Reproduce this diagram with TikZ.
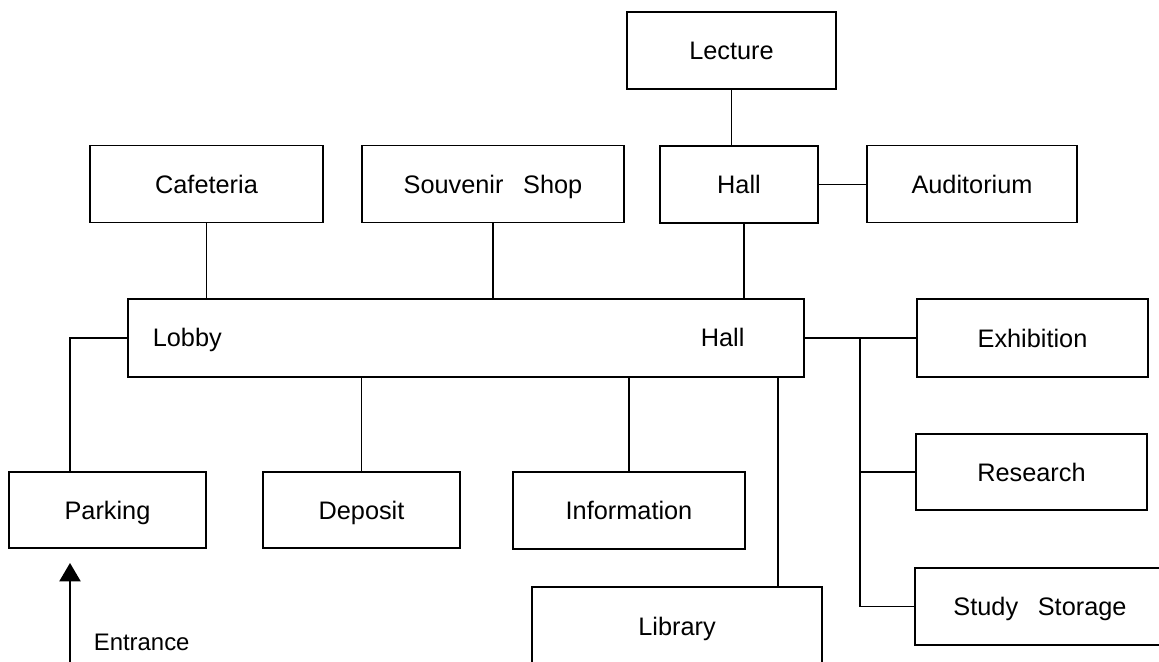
\documentclass[tikz,border=0pt]{standalone}
\usepackage{fontspec}
\setmainfont{Liberation Sans}
\usetikzlibrary{arrows.meta}

\tikzset{
  room/.style={draw, inner sep=0pt, minimum height=1.925cm,
    text height=12.9pt, text depth=0pt,
    font=\fontsize{18}{20}\selectfont},
  tag/.style={inner sep=0pt, font=\fontsize{18}{20}\selectfont},
}

\begin{document}
\begin{tikzpicture}[x=0.025cm, y=-0.025cm, line width=1.2pt]
  \clip (0,0) rectangle (1159,662);
  % upper rooms
  \node[room, minimum width=5.225cm] (lecture) at (731.5,50.5) {Lecture};
  \node[room, minimum width=3.95cm] (hallb) at (739,184.5) {Hall};
  \node[room, minimum width=5.25cm] (auditorium) at (972,184) {Auditorium};
  \node[room, minimum width=5.825cm] (cafeteria) at (206.5,184) {Cafeteria};
  \node[room, minimum width=6.55cm] (souvenir) at (493,184) {Souvenir\hspace{0.5em} Shop};
  % lobby hall
  \node[room, minimum width=16.9cm, minimum height=1.95cm] (lobby) at (466,338) {};
  \node[tag, anchor=base west] (lobbytxt) at (152,347) {Lobby};
  \node[tag, anchor=base west] (halltxt) at (700,347) {Hall};
  % lower rooms
  \node[room, minimum width=4.925cm, minimum height=1.9cm] (parking) at (107.5,510) {Parking};
  \node[room, minimum width=4.925cm, minimum height=1.9cm] (deposit) at (361.5,510) {Deposit};
  \node[room, minimum width=5.8cm] (information) at (629,510.5) {Information};
  \node[room, minimum width=7.25cm, minimum height=1.95cm] (library) at (677,626) {Library};
  % right wing
  \node[room, minimum width=5.775cm, minimum height=1.95cm] (exhibition) at (1032.5,338) {Exhibition};
  \node[room, minimum width=5.775cm, minimum height=1.9cm] (research) at (1031.5,472) {Research};
  \node[room, minimum width=6.25cm] (storage) at (1040,606.5) {Study\hspace{0.5em} Storage};

  \coordinate (entry) at (70,662);
  \coordinate (entrytip) at (70,563);
  \coordinate (hallx) at (744,0);
  \coordinate (libx) at (778,0);
  \coordinate (trunk) at (860,0);

  \draw (lecture.south) -- (lecture.south |- hallb.north);
  \draw (hallb.east) -- (hallb.east -| auditorium.west);
  \draw (cafeteria.south) -- (cafeteria.south |- lobby.north);
  \draw (souvenir.south) -- (souvenir.south |- lobby.north);
  \draw (hallb.south -| hallx) -- (lobby.north -| hallx);
  \draw (lobby.west) -| (entry |- parking.north);
  \draw[-{Triangle[width=15pt,length=13pt]}] (entry) -- (entrytip);
  \node[inner sep=0pt, anchor=base west, font=\fontsize{17}{19}\selectfont] (entrance) at (93,650) {Entrance};
  \draw (deposit.north) -- (deposit.north |- lobby.south);
  \draw (information.north) -- (information.north |- lobby.south);
  \draw (lobby.south -| libx) -- (library.north -| libx);
  \draw (lobby.east) -- (exhibition.west);
  \draw (lobby.east -| trunk) |- (storage.west);
  \draw (research.west) -- (research.west -| trunk);
\end{tikzpicture}
\end{document}
